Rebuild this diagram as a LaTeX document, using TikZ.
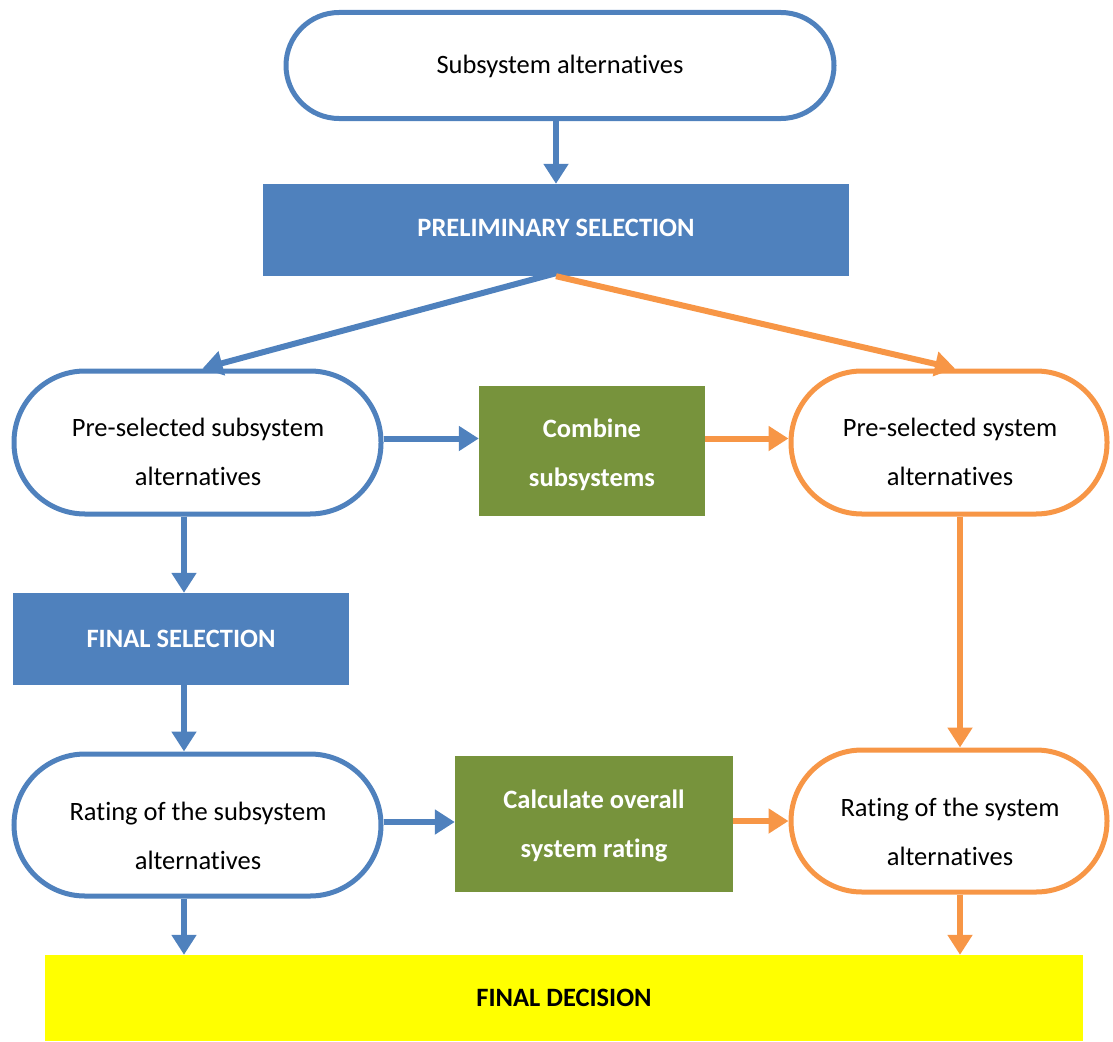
\documentclass[tikz,border=0pt]{standalone}
\usepackage{fontspec}
\setmainfont{Carlito}[Ligatures={NoCommon}]
\usetikzlibrary{arrows.meta,calc}
\definecolor{cblue}{HTML}{4F81BD}
\definecolor{corange}{HTML}{F79646}
\definecolor{cgreen}{HTML}{77933C}
\definecolor{cyellow}{HTML}{FFFF00}
\tikzset{
  stadium/.style={draw=#1, line width=5pt, fill=white, inner sep=0pt},
  stext/.style={align=center, inner sep=0pt, font=\fontsize{26.5}{49}\selectfont, text=black},
  btext/.style={align=center, inner sep=0pt, font=\fontsize{26.5}{49}\selectfont\bfseries, text=white},
  bbox/.style={fill=cblue, text=white, font=\fontsize{26.5}{49}\selectfont\bfseries, align=center, inner sep=0pt},
  gbox/.style={fill=cgreen, inner sep=0pt},
  ybox/.style={fill=cyellow, text=black, font=\fontsize{26.5}{49}\selectfont\bfseries, align=center, inner sep=0pt},
  barrow/.style={draw=cblue, line width=6pt, -{Triangle[length=20pt,width=24pt]}},
  oarrow/.style={draw=corange, line width=6pt, -{Triangle[length=20pt,width=24pt]}},
}
\begin{document}
\begin{tikzpicture}[x=1pt,y=-1pt]
\useasboundingbox (0,0) rectangle (1113,1041);
% nodes
\node[stadium=cblue, minimum width=548pt, minimum height=106pt, rounded corners=53pt] (top) at (560,65.5) {};
\node[stext] (topt) at (560,66) {Subsystem alternatives};
\node[bbox, minimum width=586pt, minimum height=92pt] (pre) at (556,230) {};
\node[btext] (pret) at (556,228) {PRELIMINARY SELECTION};
\node[stadium=cblue, minimum width=367pt, minimum height=143pt, rounded corners=71pt] (lss) at (197.5,442.5) {};
\node[stext] (lsst) at (198,452) {Pre-selected subsystem\\alternatives};
\node[gbox, minimum width=226pt, minimum height=130pt] (comb) at (592,451) {};
\node[btext] (combt) at (592,455) {Combine\\subsystems};
\node[stadium=corange, minimum width=316pt, minimum height=143pt, rounded corners=71pt] (rss) at (949,442.5) {};
\node[stext] (rsst) at (950,452) {Pre-selected system\\alternatives};
\node[bbox, minimum width=336pt, minimum height=92pt] (fs) at (181,639) {FINAL SELECTION};
\node[stadium=cblue, minimum width=367pt, minimum height=142pt, rounded corners=71pt] (lrs) at (197.5,825) {};
\node[stext] (lrst) at (198,836) {Rating of the subsystem\\alternatives};
\node[gbox, minimum width=278pt, minimum height=136pt] (calc) at (594,824) {};
\node[btext] (calct) at (594,826) {Calculate overall\\system rating};
\node[stadium=corange, minimum width=316pt, minimum height=142pt, rounded corners=71pt] (rrs) at (949,821) {};
\node[stext] (rrst) at (950,832) {Rating of the system\\alternatives};
\node[ybox, minimum width=1038pt, minimum height=86pt] (fd) at (564,998) {FINAL DECISION};
% connectors
\draw[barrow] ([xshift=-4pt]top.south) -- ([xshift=-4pt]top.south |- pre.north);
\draw[barrow] ([yshift=3pt]pre.south) -- ([xshift=5pt]lss.north);
\draw[oarrow] (pre.south) -- ([xshift=6pt]rss.north);
\draw[barrow] ([yshift=4pt]lss.east) -- ([yshift=4pt]lss.east -| comb.west);
\draw[oarrow] ([yshift=4pt]rss.west -| comb.east) -- ([yshift=4pt]rss.west);
\draw[barrow] (lss.south -| 184,0) -- (fs.north -| 184,0);
\draw[barrow] (fs.south -| 184,0) -- (lrs.north -| 184,0);
\draw[oarrow] (rss.south -| 960,0) -- (rrs.north -| 960,0);
\draw[barrow] ([yshift=3pt]lrs.east) -- ([yshift=3pt]lrs.east -| calc.west);
\draw[oarrow] (calc.east |- rrs.west) -- (rrs.west);
\draw[barrow] (lrs.south -| 184,0) -- (fd.north -| 184,0);
\draw[oarrow] (rrs.south -| 960,0) -- (fd.north -| 960,0);
\end{tikzpicture}
\end{document}
